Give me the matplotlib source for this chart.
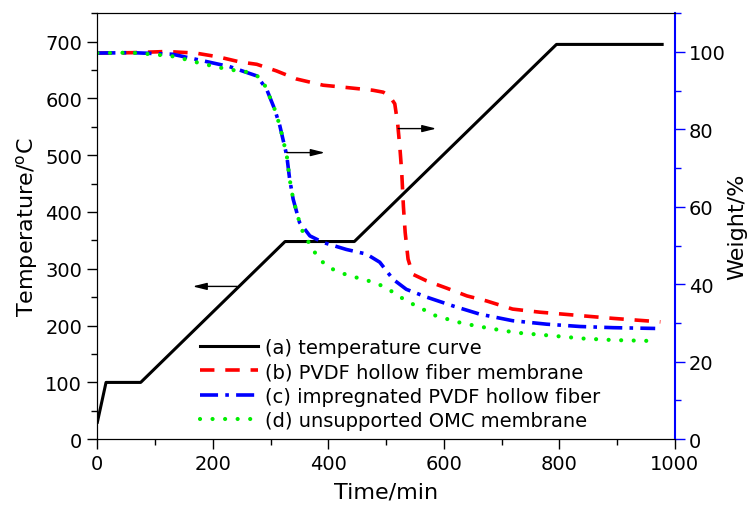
import matplotlib
matplotlib.use('Agg')
import matplotlib.pyplot as plt
from matplotlib.ticker import MultipleLocator

# (a) temperature program, time in min, temperature in degC
temp_time = [0, 15, 75, 325, 445, 795, 978]
temp_val = [30, 100, 100, 348, 348, 695, 695]

# (b) PVDF hollow fiber membrane, weight %
pvdf_time = [0, 60, 120, 170, 210, 247, 276, 310, 345, 391, 432, 477, 495, 506, 515,
             520, 524, 527, 530, 533, 538, 546, 570, 605, 640, 674, 719, 766, 806,
             853, 893, 975]
pvdf_w = [99.7, 99.8, 100.1, 99.7, 98.7, 97.4, 96.8, 95.1, 93.0, 91.4, 90.8, 90.1, 89.6,
          88.6, 86.6, 81.5, 75, 69, 60, 53.4, 46.5, 42.6, 40.9, 39.0, 37.0, 35.7, 33.6,
          32.8, 32.3, 31.7, 31.2, 30.3]

# (c) impregnated PVDF hollow fiber
imp_time = [0, 60, 130, 183, 229, 276, 293, 307, 316, 328, 333, 339, 350, 368, 391, 431,
            466, 489, 512, 535, 570, 616, 662, 719, 778, 836, 893, 966]
imp_w = [99.7, 99.8, 99.4, 97.7, 96.2, 93.8, 90.4, 85.2, 80.9, 73.2, 67.1, 62.0, 56.0,
         52.5, 50.8, 49.0, 47.8, 45.7, 41.3, 38.7, 36.7, 34.4, 32.3, 30.6, 29.7, 29.1,
         28.8, 28.6]

# (d) unsupported OMC membrane
omc_time = [0, 60, 108, 134, 157, 180, 226, 264, 284, 293, 307, 316, 328, 333, 339, 350,
            356, 371, 382, 397, 417, 437, 460, 483, 501, 529, 546, 587, 633, 680, 726,
            789, 841, 893, 951]
omc_w = [99.7, 99.8, 99.2, 98.8, 97.9, 97.0, 95.5, 94.7, 93.2, 90.4, 85.2, 80.9, 73.2,
         67.1, 62.0, 56.0, 53.4, 49.5, 47.0, 44.7, 43.2, 42.2, 41.3, 40.3, 39.0, 36.3,
         34.9, 31.8, 29.9, 28.6, 27.5, 26.7, 26.0, 25.6, 25.4]

labels = ['(a) temperature curve', '(b) PVDF hollow fiber membrane',
          '(c) impregnated PVDF hollow fiber', '(d) unsupported OMC membrane']

plt.rcParams['font.family'] = 'DejaVu Sans'

fig = plt.figure(figsize=(7.49, 5.06), dpi=100)
ax = fig.add_axes([0.130, 0.130, 0.771, 0.842])
ax2 = ax.twinx()

l1, = ax.plot(temp_time, temp_val, color='black', lw=2.2, label=labels[0])
l2, = ax2.plot(pvdf_time, pvdf_w, color='red', lw=2.6, dashes=(4, 3), label=labels[1])
l3, = ax2.plot(imp_time, imp_w, color='blue', lw=2.6, dashes=(5, 2, 1, 2), label=labels[2])
l4, = ax2.plot(omc_time, omc_w, color='#00ee00', lw=3, dashes=(0.01, 3),
               dash_capstyle='round', label=labels[3])

ax.set_xlim(0, 1000)
ax.set_ylim(0, 750)
ax2.set_ylim(0, 110)

ax.xaxis.set_major_locator(MultipleLocator(200))
ax.xaxis.set_minor_locator(MultipleLocator(100))
ax.yaxis.set_major_locator(MultipleLocator(100))
ax.yaxis.set_minor_locator(MultipleLocator(50))
ax2.yaxis.set_major_locator(MultipleLocator(20))
ax2.yaxis.set_minor_locator(MultipleLocator(10))

ax.tick_params(which='major', length=7, width=1, labelsize=14, pad=4)
ax.tick_params(which='minor', length=4, width=1)
ax2.tick_params(which='major', length=7, width=1, labelsize=14, pad=3, color='blue')
ax2.tick_params(which='minor', length=4, width=1, color='blue')
ax2.spines['right'].set_color('blue')
ax2.spines['right'].set_linewidth(1.5)
ax.spines['right'].set_visible(False)

ax.set_xlabel('Time/min', fontsize=16, labelpad=6)
ax.set_ylabel(r'Temperature/$^{\rm o}$C', fontsize=16, labelpad=4)
ax2.set_ylabel('Weight/%', fontsize=16, labelpad=1)

# arrows pointing to the axis each curve belongs to
arrow = dict(arrowstyle='-|>,head_length=0.6,head_width=0.15', color='black', lw=1,
             shrinkA=0, shrinkB=0, mutation_scale=14)
ax.annotate('', xy=(165, 269), xytext=(242, 269), arrowprops=arrow)
ax2.annotate('', xy=(394, 74), xytext=(328, 74), arrowprops=arrow)
ax2.annotate('', xy=(587, 80.2), xytext=(521, 80.2), arrowprops=arrow)

ax2.legend(handles=[l1, l2, l3, l4], loc='upper left', bbox_to_anchor=(0.177, 0.238),
           frameon=False, fontsize=14, handlelength=3.0, handletextpad=0.35,
           labelspacing=0.28, borderpad=0, borderaxespad=0)

fig.savefig('out.png', dpi=100)
